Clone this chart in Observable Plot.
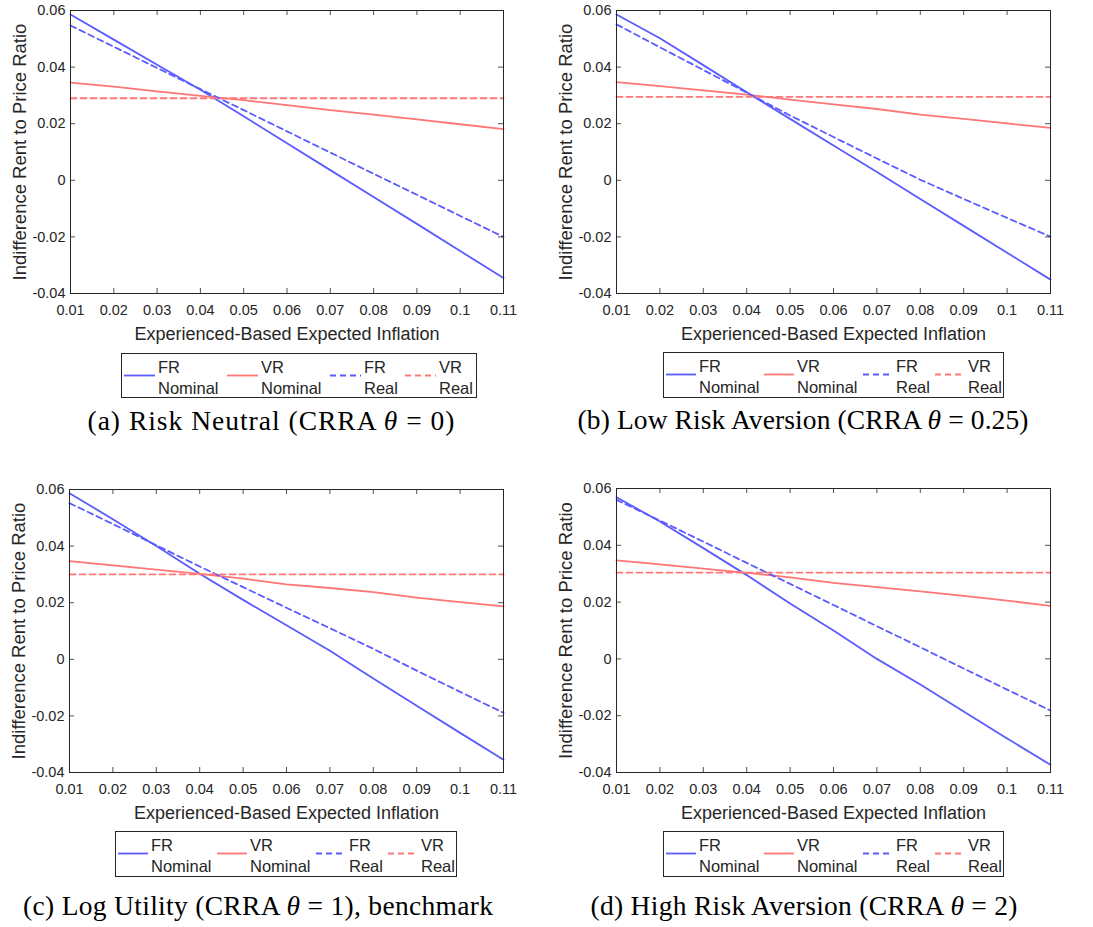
<!DOCTYPE html>
<html>
<head>
<meta charset="utf-8">
<script src="https://cdn.jsdelivr.net/npm/d3@7"></script>
<script src="https://cdn.jsdelivr.net/npm/@observablehq/plot@0.6"></script>
<style>
  body { margin: 0; background: #fff; }
  #fig { position: relative; width: 1093px; height: 927px; overflow: hidden; background: #fff; }
  #fig > svg { position: absolute; }
  #overlay { left: 0; top: 0; pointer-events: none; }
</style>
</head>
<body>
<div id="fig"></div>
<script>
// Expected inflation grid (x) and tick labels
const inflation = [0.01, 0.02, 0.03, 0.04, 0.05, 0.06, 0.07, 0.08, 0.09, 0.10, 0.11];
const xTicks = [0.01, 0.02, 0.03, 0.04, 0.05, 0.06, 0.07, 0.08, 0.09, 0.10, 0.11];
const yTicks = [-0.04, -0.02, 0, 0.02, 0.04, 0.06];
const xLabel = "Experienced-Based Expected Inflation";
const yLabel = "Indifference Rent to Price Ratio";
const seriesNames = [["FR", "Nominal"], ["VR", "Nominal"], ["FR", "Real"], ["VR", "Real"]];

// (a) Risk neutral, CRRA theta = 0
const frNominalA = [0.0586, 0.0497, 0.0408, 0.0320, 0.0226, 0.0131, 0.0036, -0.0059, -0.0154, -0.0250, -0.0345];
const vrNominalA = [0.0345, 0.0331, 0.0314, 0.0298, 0.0283, 0.0266, 0.0248, 0.0232, 0.0215, 0.0198, 0.0181];
const frRealA    = [0.0547, 0.0472, 0.0397, 0.0322, 0.0248, 0.0173, 0.0098, 0.0023, -0.0051, -0.0126, -0.0200];
const vrRealA    = [0.0290, 0.0290, 0.0290, 0.0290, 0.0290, 0.0290, 0.0290, 0.0290, 0.0290, 0.0290, 0.0290];

// (b) Low risk aversion, CRRA theta = 0.25
const frNominalB = [0.0586, 0.0502, 0.0407, 0.0311, 0.0217, 0.0123, 0.0029, -0.0066, -0.0161, -0.0256, -0.0351];
const vrNominalB = [0.0347, 0.0333, 0.0318, 0.0303, 0.0285, 0.0268, 0.0252, 0.0232, 0.0217, 0.0201, 0.0185];
const frRealB    = [0.0551, 0.0470, 0.0390, 0.0310, 0.0229, 0.0153, 0.0077, 0.0002, -0.0066, -0.0133, -0.0199];
const vrRealB    = [0.0295, 0.0295, 0.0295, 0.0295, 0.0295, 0.0295, 0.0295, 0.0295, 0.0295, 0.0295, 0.0295];

// (c) Log utility, CRRA theta = 1 (benchmark)
const frNominalC = [0.0587, 0.0495, 0.0400, 0.0302, 0.0210, 0.0120, 0.0030, -0.0068, -0.0164, -0.0260, -0.0355];
const vrNominalC = [0.0347, 0.0332, 0.0317, 0.0302, 0.0285, 0.0265, 0.0252, 0.0237, 0.0218, 0.0202, 0.0187];
const frRealC    = [0.0552, 0.0478, 0.0403, 0.0328, 0.0255, 0.0182, 0.0110, 0.0037, -0.0040, -0.0115, -0.0189];
const vrRealC    = [0.0300, 0.0300, 0.0300, 0.0300, 0.0300, 0.0300, 0.0300, 0.0300, 0.0300, 0.0300, 0.0300];

// (d) High risk aversion, CRRA theta = 2
const frNominalD = [0.0569, 0.0484, 0.0390, 0.0295, 0.0195, 0.0100, 0.0000, -0.0090, -0.0185, -0.0280, -0.0373];
const vrNominalD = [0.0347, 0.0333, 0.0318, 0.0303, 0.0287, 0.0268, 0.0253, 0.0238, 0.0222, 0.0205, 0.0187];
const frRealD    = [0.0560, 0.0487, 0.0413, 0.0338, 0.0264, 0.0190, 0.0115, 0.0041, -0.0034, -0.0108, -0.0182];
const vrRealD    = [0.0304, 0.0304, 0.0304, 0.0304, 0.0304, 0.0304, 0.0304, 0.0304, 0.0304, 0.0304, 0.0304];

// Panel captions
const captionTags = ["(a)", "(b)", "(c)", "(d)"];
const captionNames = ["Risk Neutral", "Low Risk Aversion", "Log Utility", "High Risk Aversion"];
const thetaValues = ["0", "0.25", "1", "2"];
const captionTails = ["", "", ", benchmark", ""];

const INK = "#262626";
const BLUE = "#5b5bff";
const RED = "#ff7676";
const SANS = "'Liberation Sans', Arial, sans-serif";
const SERIF = "'Liberation Serif', 'Times New Roman', serif";
const styles = [
  {color: BLUE, dash: null},
  {color: RED, dash: null},
  {color: BLUE, dash: "6,4"},
  {color: RED, dash: "6,4"}
];

const fmt = d => String(+d.toFixed(2));

const panels = [
  {left: 0,   top: 0,   width: 546, height: 345, mL: 70, mR: 43, mT: 10, mB: 52,
   series: [frNominalA, vrNominalA, frRealA, vrRealA],
   legend: {x: 121, y: 353, w: 356, h: 45, offsets: [3, 106, 209, 284], line: 31},
   caption: {x: 271, y: 430, w: 367}},
  {left: 546, top: 0,   width: 547, height: 345, mL: 70, mR: 43, mT: 10, mB: 52,
   series: [frNominalB, vrNominalB, frRealB, vrRealB],
   legend: {x: 663, y: 352, w: 341, h: 46, offsets: [3, 101, 200, 272], line: 30},
   caption: {x: 803, y: 429, w: 451}},
  {left: 0,   top: 479, width: 546, height: 345, mL: 69, mR: 43, mT: 10, mB: 52,
   series: [frNominalC, vrNominalC, frRealC, vrRealC],
   legend: {x: 115, y: 831, w: 342, h: 46, offsets: [3, 102, 201, 273], line: 30},
   caption: {x: 258, y: 915, w: 470}},
  {left: 546, top: 478, width: 547, height: 346, mL: 70, mR: 43, mT: 10, mB: 52,
   series: [frNominalD, vrNominalD, frRealD, vrRealD],
   legend: {x: 663, y: 831, w: 341, h: 46, offsets: [3, 101, 200, 272], line: 30},
   caption: {x: 804, y: 915, w: 427}}
];

const fig = document.getElementById("fig");

for (const p of panels) {
  const plotW = p.width - p.mL - p.mR;
  const plotH = p.height - p.mT - p.mB;
  const lines = p.series.map((values, i) =>
    Plot.line(inflation, {
      x: d => d,
      y: values,
      stroke: styles[i].color,
      strokeWidth: 1.8,
      strokeDasharray: styles[i].dash
    })
  );
  const chart = Plot.plot({
    width: p.width,
    height: p.height,
    marginLeft: p.mL,
    marginRight: p.mR,
    marginTop: p.mT,
    marginBottom: p.mB,
    style: {fontFamily: SANS, fontSize: "14.5px", color: INK, background: "white", overflow: "visible"},
    x: {domain: [0.01, 0.11]},
    y: {domain: [-0.04, 0.06]},
    marks: [
      ...lines,
      // inward ticks on all four sides of the box
      Plot.tickX(xTicks, {x: d => d, insetTop: plotH - 5, stroke: INK, strokeWidth: 0.8}),
      Plot.tickX(xTicks, {x: d => d, insetBottom: plotH - 5, stroke: INK, strokeWidth: 0.8}),
      Plot.tickY(yTicks, {y: d => d, insetLeft: plotW - 5, stroke: INK, strokeWidth: 0.8}),
      Plot.tickY(yTicks, {y: d => d, insetRight: plotW - 5, stroke: INK, strokeWidth: 0.8}),
      Plot.frame({stroke: INK, strokeWidth: 1}),
      Plot.axisX(xTicks, {tickSize: 0, tickPadding: 11, tickFormat: fmt, label: null, fontSize: 14.5, fill: INK}),
      Plot.axisY(yTicks, {tickSize: 0, tickPadding: 5, tickFormat: fmt, label: null, fontSize: 14.5, fill: INK}),
      Plot.text([xLabel], {text: d => d, frameAnchor: "bottom", dy: 46, textAnchor: "middle", lineAnchor: "bottom", fontSize: 18, fill: INK}),
      Plot.text([yLabel], {text: d => d, frameAnchor: "left", dx: -45, rotate: -90, textAnchor: "middle", lineAnchor: "bottom", fontSize: 18.5, fill: INK})
    ]
  });
  chart.style.left = p.left + "px";
  chart.style.top = p.top + "px";
  fig.appendChild(chart);
}

// Legends and captions beneath each panel
const overlay = d3.select(fig).append("svg")
  .attr("id", "overlay")
  .attr("width", 1093)
  .attr("height", 927);

panels.forEach((p, k) => {
  const L = p.legend;
  const g = overlay.append("g").attr("transform", `translate(${L.x},${L.y})`);
  g.append("rect")
    .attr("x", 0.5).attr("y", 0.5)
    .attr("width", L.w - 1).attr("height", L.h - 1)
    .attr("fill", "white").attr("stroke", INK).attr("stroke-width", 1);
  seriesNames.forEach((name, i) => {
    const x0 = L.offsets[i];
    g.append("line")
      .attr("x1", x0).attr("x2", x0 + L.line)
      .attr("y1", 22.5).attr("y2", 22.5)
      .attr("stroke", styles[i].color)
      .attr("stroke-width", 1.8)
      .attr("stroke-dasharray", styles[i].dash);
    const t = g.append("text")
      .attr("font-family", SANS)
      .attr("font-size", 16.5)
      .attr("fill", INK);
    t.append("tspan").attr("x", x0 + L.line + 3).attr("y", 19.5).text(name[0]);
    t.append("tspan").attr("x", x0 + L.line + 3).attr("y", 40.5).text(name[1]);
  });

  const C = p.caption;
  const cap = overlay.append("text")
    .attr("x", C.x).attr("y", C.y)
    .attr("text-anchor", "middle")
    .attr("font-family", SERIF)
    .attr("font-size", 27.5)
    .attr("fill", "#000")
    .attr("textLength", C.w)
    .attr("lengthAdjust", "spacing");
  cap.append("tspan").text(`${captionTags[k]} ${captionNames[k]} (CRRA `);
  cap.append("tspan").attr("font-style", "italic").text("θ");
  cap.append("tspan").text(` = ${thetaValues[k]})${captionTails[k]}`);
});
</script>
</body>
</html>
